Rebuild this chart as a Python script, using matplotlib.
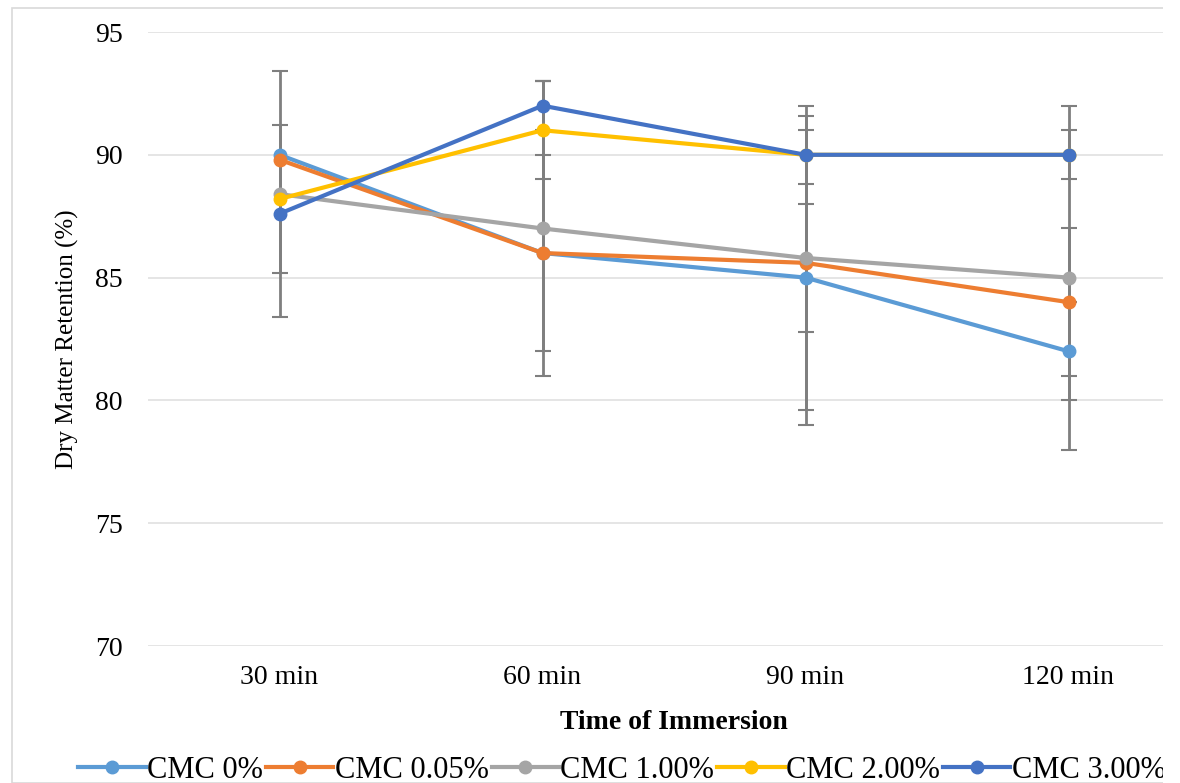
import matplotlib
matplotlib.use("Agg")
import matplotlib.pyplot as plt
from matplotlib.patches import Rectangle
import numpy as np

categories = ["30 min", "60 min", "90 min", "120 min"]
series_names = ["CMC 0%", "CMC 0.05%", "CMC 1.00%", "CMC 2.00%", "CMC 3.00%"]
cmc_0 = [90.0, 86.0, 85.0, 82.0]
cmc_005 = [89.8, 86.0, 85.6, 84.0]
cmc_100 = [88.4, 87.0, 85.8, 85.0]
cmc_200 = [88.2, 91.0, 90.0, 90.0]
cmc_300 = [87.6, 92.0, 90.0, 90.0]
err_0 = [0.0, 0.0, 6.0, 2.0]
err_005 = [0.0, 4.0, 6.0, 3.0]
err_100 = [5.0, 6.0, 3.0, 7.0]
err_200 = [3.0, 2.0, 0.0, 1.0]
err_300 = [0.0, 1.0, 2.0, 0.0]
colors = ["#5B9BD5", "#ED7D31", "#A5A5A5", "#FFC000", "#4472C4"]

values = [cmc_0, cmc_005, cmc_100, cmc_200, cmc_300]
errors = [err_0, err_005, err_100, err_200, err_300]

plt.rcParams['font.family'] = ['Liberation Serif', 'DejaVu Serif']

fig = plt.figure(figsize=(11.8, 7.83), dpi=100)
fig.patches.append(Rectangle((12/1180, 0), 1.0, 1 - 8/783, transform=fig.transFigure,
                             fill=False, edgecolor="#d9d9d9", linewidth=1.2))
ax = fig.add_axes([148/1180, (783-646)/783, 1052/1180, 614/783])

x = np.arange(len(categories)) + 0.5
for vals, errs in zip(values, errors):
    e = np.array(errs)
    mask = e > 0
    ax.errorbar(x[mask], np.array(vals)[mask], yerr=e[mask], fmt='none',
                ecolor="#7f7f7f", elinewidth=2.0, capsize=6, capthick=1.5, zorder=2)
handles = []
for name, vals, c in zip(series_names, values, colors):
    h, = ax.plot(x, vals, color=c, linewidth=3, marker='o', markersize=9,
                 label=name, zorder=3)
    handles.append(h)

ax.set_xlim(0, len(categories))
ax.set_ylim(70, 95)
ax.set_yticks([70, 75, 80, 85, 90, 95])
ax.set_xticks(x)
ax.set_xticklabels(categories, fontsize=20)
ax.tick_params(axis='y', labelsize=20, length=0, pad=18)
ax.tick_params(axis='x', length=0, pad=14)
ax.grid(axis='y', color="#e3e3e3", linewidth=1.3)
ax.set_axisbelow(True)
for s in ax.spines.values():
    s.set_visible(False)

ax.set_xlabel("Time of Immersion", fontsize=20, fontweight='bold', labelpad=14)
ax.set_ylabel("Dry Matter Retention (%)", fontsize=18, labelpad=12)

fig.legend(handles=handles, labels=series_names, loc='center', ncol=5,
           bbox_to_anchor=(622/1180, 13/783), frameon=False, fontsize=22,
           handlelength=2.2, handletextpad=0.05, columnspacing=0.1)

fig.patches.append(Rectangle((1163/1180, 0), 17/1180, 1.0, transform=fig.transFigure,
                             facecolor="white", edgecolor="none", zorder=10))

fig.savefig("out.png", dpi=100)
